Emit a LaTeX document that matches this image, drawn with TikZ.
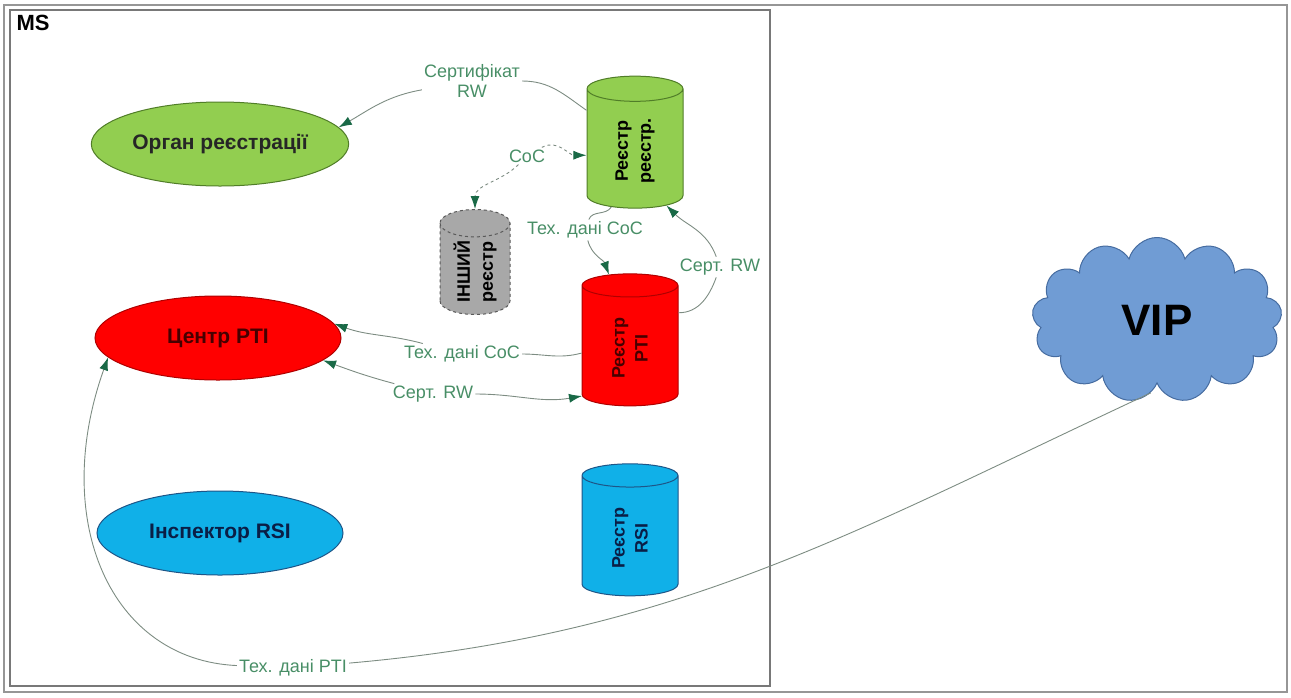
\documentclass[tikz,border=0pt]{standalone}
\usepackage{fontspec}
\setmainfont{Liberation Sans}
\usetikzlibrary{arrows.meta, shapes.geometric, shapes.symbols}

\definecolor{regGreen}{RGB}{146,206,80}
\definecolor{regGreenDark}{RGB}{80,125,40}
\definecolor{ptiRed}{RGB}{255,0,0}
\definecolor{ptiRedDark}{RGB}{175,0,0}
\definecolor{ptiText}{RGB}{70,0,0}
\definecolor{rsiBlue}{RGB}{16,176,232}
\definecolor{rsiBlueDark}{RGB}{30,85,135}
\definecolor{rsiText}{RGB}{10,30,70}
\definecolor{otherGray}{RGB}{168,168,168}
\definecolor{vipBlue}{RGB}{112,156,212}
\definecolor{vipBlueDark}{RGB}{70,108,160}
\definecolor{linkGray}{RGB}{125,140,130}
\definecolor{tipGreen}{RGB}{25,105,70}
\definecolor{labelGreen}{RGB}{72,142,102}
\definecolor{frameGray}{RGB}{150,150,150}

\tikzset{
    gtip/.tip={Latex[length=13pt, width=9pt, color=tipGreen, fill=tipGreen]},
    party/.style={ellipse, draw, line width=1pt, minimum width=246pt, minimum height=84pt,
        font=\fontsize{21}{24}\selectfont\bfseries},
    store/.style={cylinder, draw, line width=1pt, rotate=90, aspect=0.55,
        minimum width=96pt, minimum height=132pt, align=center,
        font=\fontsize{18}{23}\selectfont\bfseries},
    flow/.style={draw=linkGray, line width=0.9pt, -gtip},
    flowlabel/.style={text=labelGreen, font=\fontsize{18}{20}\selectfont, inner sep=2pt, align=center}
}

\begin{document}
\begin{tikzpicture}
    \useasboundingbox (0,0) rectangle (1291pt,-697pt);
    \begin{scope}[x=1pt, y=1pt]
    % Frames
    \draw[frameGray, line width=1.5pt] (4,-5) rectangle (1287,-692);
    \draw[frameGray!80!black, line width=1.5pt] (10,-10) rectangle (770,-686);
    \node[anchor=north west, font=\fontsize{22}{24}\selectfont\bfseries] (ms) at (13,-12) {MS};

    % Parties
    \node[party, fill=regGreen, draw=regGreenDark, text=black!85] (organ) at (220,-144) {Орган реєстрації};
    \node[party, fill=ptiRed, draw=ptiRedDark, text=ptiText] (centr) at (218,-338) {Центр PTI};
    \node[party, fill=rsiBlue, draw=rsiBlueDark, text=rsiText] (inspector) at (220,-533) {Інспектор RSI};

    % Registers
    \node[store, fill=regGreen, draw=regGreenDark] (regreg) at (635,-151) {Реєстр\\реєстр.};
    \node[store, fill=otherGray, draw=black!65, dashed, minimum width=70pt, minimum height=105pt] (other) at (475,-272) {ІНШИЙ\\реєстр};
    \node[store, fill=ptiRed, draw=ptiRedDark, text=ptiText] (ptireg) at (630,-348) {Реєстр\\PTI};
    \node[store, fill=rsiBlue, draw=rsiBlueDark, text=rsiText] (rsireg) at (630,-538) {Реєстр\\RSI};

    % VIP
    \node[cloud, cloud puffs=13, aspect=1.6, fill=vipBlue, draw=vipBlueDark, line width=1pt,
        minimum width=250pt, minimum height=165pt, font=\fontsize{44}{48}\selectfont\bfseries] (vip) at (1157,-320) {VIP};

    % Labels
    \node[flowlabel] (lcert) at (472,-81) {Сертифікат\\RW};
    \node[flowlabel] (lcoc) at (527,-156) {CoC};
    \node[flowlabel] (ltech1) at (585,-230) {Тех. дані CoC};
    \node[flowlabel] (lsert1) at (720,-267) {Серт. RW};
    \node[flowlabel] (ltech2) at (462,-354) {Тех. дані CoC};
    \node[flowlabel] (lsert2) at (433,-394) {Серт. RW};
    \node[flowlabel] (ltechpti) at (293,-668) {Тех. дані PTI};

    % Connectors
    \draw[flow] (regreg.50) to[out=145,in=0] (lcert) to[out=190,in=30] (organ.8);
    \draw[flow, dashed] (lcoc) to[out=-135,in=90] (other.east);
    \draw[flow, dashed] (lcoc) to[out=30,in=180] (regreg.95);
    \draw[flow] (regreg.157) to[out=240,in=70] (ltech1) to[out=-75,in=110] (ptireg.16);
    \draw[flow] (ptireg.-54) to[out=0,in=-110] (lsert1) to[out=110,in=-45] (regreg.-150);
    \draw[flow] (ptireg.96) to[out=195,in=0] (ltech2) to[out=165,in=-20] (centr.7);
    \draw[flow] (lsert2) to[out=165,in=-20] (centr.-12);
    \draw[flow] (lsert2) to[out=0,in=190] (ptireg.135);
    \draw[flow] (vip.-95) to[out=-155,in=5] (ltechpti) .. controls (110,-660) and (50,-520) .. (centr.190);
    \end{scope}
\end{tikzpicture}
\end{document}
